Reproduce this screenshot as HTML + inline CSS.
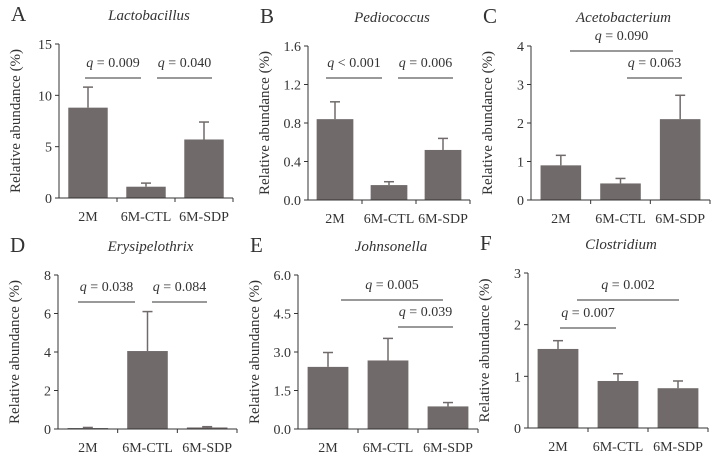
<!DOCTYPE html>
<html><head><meta charset="utf-8"><style>
body{margin:0;background:#fff;width:719px;height:460px;overflow:hidden}
svg text{font-family:"Liberation Serif",serif;fill:#333}
</style></head><body>
<svg id="c" width="719" height="460"></svg>
<script>
const categories=["2M","6M-CTL","6M-SDP"];
const titles=["Lactobacillus","Pediococcus","Acetobacterium","Erysipelothrix","Johnsonella","Clostridium"];
const letters=["A","B","C","D","E","F"];
const means=[[8.8,1.1,5.7],[0.84,0.155,0.52],[0.9,0.43,2.1],[0.05,4.05,0.08],[2.42,2.67,0.88],[1.53,0.91,0.77]];
const errTops=[[10.8,1.45,7.4],[1.02,0.19,0.64],[1.16,0.56,2.72],[0.08,6.1,0.12],[2.98,3.53,1.03],[1.69,1.05,0.91]];
const yMax=[15,1.6,4,8,6,3];
const tickLabels=[["0","5","10","15"],["0.0","0.4","0.8","1.2","1.6"],["0","1","2","3","4"],["0","2","4","6","8"],["0.0","1.5","3.0","4.5","6.0"],["0","1","2","3"]];
const sigLabels=[["q = 0.009","q = 0.040"],["q < 0.001","q = 0.006"],["q = 0.090","q = 0.063"],["q = 0.038","q = 0.084"],["q = 0.005","q = 0.039"],["q = 0.002","q = 0.007"]];
const layout=[{x0:59,x1:233,top:44,zero:198},{x0:308,x1:470,top:46,zero:200},{x0:531,x1:710,top:46,zero:200},
{x0:58,x1:237,top:275,zero:429},{x0:298,x1:478,top:275,zero:429},{x0:528,x1:708,top:273,zero:428}];
const sigGeom=[[[85,141,78],[157,212,78]],[[326,382,78],[398,453,78]],[[570,673,51],[627,682,78]],
[[78,135,302],[152,207,302]],[[341,443,300],[398,453,327]],[[577,679,300],[560,616,328]]];
const svg=document.getElementById('c');const NS="http://www.w3.org/2000/svg";
function mk(t,a,p){const e=document.createElementNS(NS,t);for(const k in a)e.setAttribute(k,a[k]);(p||svg).appendChild(e);return e;}
for(let p=0;p<6;p++){
 const L=layout[p];const g=mk('g',{});
 
 
 const y=v=>L.zero-(v/yMax[p])*(L.zero-L.top);
 const cw=(L.x1-L.x0)/3;const xc=i=>L.x0+cw*(i+0.5);const bw=cw*0.68;
 let t=mk('text',{x:L.x0-48,y:L.top-23,'font-size':21},g);t.textContent=letters[p];
 
 t=mk('text',{x:(L.x0+L.x1)/2+3,y:L.top-24,'font-size':15,'font-style':'italic','text-anchor':'middle'},g);t.textContent=titles[p];
 
 t=mk('text',{x:0,y:0,'font-size':15,'text-anchor':'middle',transform:`translate(${L.x0-39},${(L.top+L.zero)/2}) rotate(-90)`},g);t.textContent="Relative abundance (%)";
 
 const n=tickLabels[p].length;
 for(let i=0;i<n;i++){const v=yMax[p]*i/(n-1);const yy=y(v);
  mk('line',{x1:L.x0-4,x2:L.x0,y1:yy,y2:yy,stroke:'#333'},g);
  t=mk('text',{x:L.x0-7,y:yy+5,'font-size':14,'text-anchor':'end'},g);t.textContent=tickLabels[p][i];
  }
 for(let i=0;i<3;i++){
  const m=means[p][i],e=errTops[p][i];
  mk('line',{x1:xc(i),x2:xc(i),y1:y(m),y2:y(e),stroke:'#706a6a','stroke-width':1.5},g);
  mk('line',{x1:xc(i)-5,x2:xc(i)+5,y1:y(e),y2:y(e),stroke:'#706a6a','stroke-width':1.5},g);
  const r=mk('rect',{x:xc(i)-bw/2,y:y(m),width:bw,height:L.zero-y(m),fill:'#706a6a'},g);
  
  t=mk('text',{x:xc(i),y:L.zero+23,'font-size':14,'text-anchor':'middle'},g);t.textContent=categories[i];
  
  mk('line',{x1:L.x0+cw*(i+1),x2:L.x0+cw*(i+1),y1:L.zero,y2:L.zero+4,stroke:'#333'},g);
 }
 mk('line',{x1:L.x0,x2:L.x0,y1:L.top,y2:L.zero,stroke:'#333'},g);
 mk('line',{x1:L.x0,x2:L.x1,y1:L.zero,y2:L.zero,stroke:'#333'},g);
 for(let s=0;s<2;s++){
  const [xa,xb,ly]=sigGeom[p][s];
  mk('line',{x1:xa,x2:xb,y1:ly,y2:ly,stroke:'#333'},g);
  const lab=sigLabels[p][s];
  t=mk('text',{x:(xa+xb)/2,y:ly-11,'font-size':14,'text-anchor':'middle'},g);
  
  const q=mk('tspan',{'font-style':'italic'},t);q.textContent='q';
  const r=mk('tspan',{},t);r.textContent=lab.slice(1);
 }
}
</script>
</body></html>
